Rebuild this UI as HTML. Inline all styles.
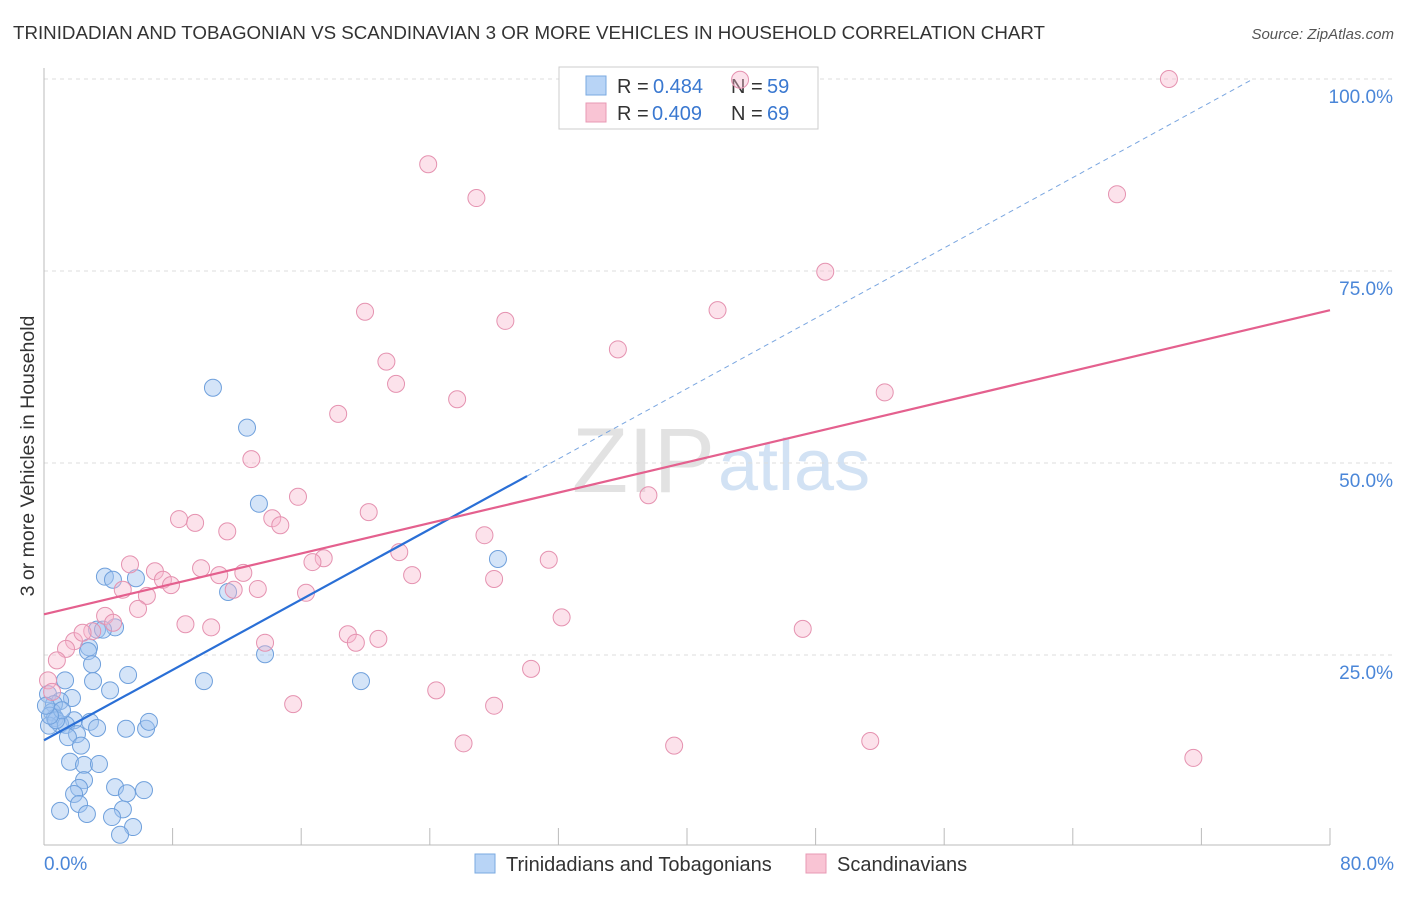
<!DOCTYPE html>
<html><head><meta charset="utf-8"><style>
body{margin:0;background:#fff;font-family:"Liberation Sans",sans-serif}
svg text{font-family:"Liberation Sans",sans-serif}
</style></head><body>
<svg id="chart" width="1406" height="892" xmlns="http://www.w3.org/2000/svg">
<text x="13" y="39" font-size="18" textLength="1032" lengthAdjust="spacingAndGlyphs" fill="#333">TRINIDADIAN AND TOBAGONIAN VS SCANDINAVIAN 3 OR MORE VEHICLES IN HOUSEHOLD CORRELATION CHART</text>
<text x="1394" y="39" font-size="15" fill="#555" text-anchor="end" font-style="italic">Source: ZipAtlas.com</text>
<text transform="translate(34,456) rotate(-90)" font-size="19.5" fill="#333" text-anchor="middle">3 or more Vehicles in Household</text>
<text x="715" y="492" font-size="92" fill="#e2e2e2" text-anchor="end" font-family="Liberation Serif">ZIP</text>
<text x="718" y="490" font-size="72" fill="#d2e2f4">atlas</text>
<g id="grid"></g>
<g>
<rect x="559" y="67" width="259" height="62" fill="#fff" stroke="#ccc"/>
<rect x="586" y="76" width="20" height="19" fill="#b8d4f6" stroke="#7aaae0"/>
<rect x="586" y="103" width="20" height="19" fill="#f9c4d4" stroke="#e89ab4"/>
<text x="617" y="93" font-size="20" fill="#333">R =</text><text x="653" y="93" font-size="20" fill="#3a78d0">0.484</text>
<text x="731" y="93" font-size="20" fill="#333">N =</text><text x="767" y="93" font-size="20" fill="#3a78d0">59</text>
<text x="617" y="120" font-size="20" fill="#333">R =</text><text x="652" y="120" font-size="20" fill="#3a78d0">0.409</text>
<text x="731" y="120" font-size="20" fill="#333">N =</text><text x="767" y="120" font-size="20" fill="#3a78d0">69</text>
</g>
<g id="pts"></g><g id="lines"></g>
<g>
<rect x="475" y="854" width="20" height="19" fill="#b8d4f6" stroke="#7aaae0"/>
<text x="506" y="871" font-size="20" fill="#333">Trinidadians and Tobagonians</text>
<rect x="806" y="854" width="20" height="19" fill="#f9c4d4" stroke="#e89ab4"/>
<text x="837" y="871" font-size="20" fill="#333">Scandinavians</text>
</g>
</svg>
<script>
const xTicks=[0,10,20,30,40,50,60,70,80];
const yTicks=[25,50,75,100];
const blueX=[10.51,12.63,13.37,28.24,3.79,4.29,5.72,11.45,3.30,4.42,3.67,2.80,2.74,2.99,13.75,5.23,1.31,3.05,9.95,19.72,4.11,0.25,1.74,1.0,0.62,0.5,0.68,1.87,2.86,1.0,1.37,0.31,3.30,5.10,6.35,6.53,2.05,1.49,2.30,1.62,2.49,3.42,2.49,2.18,4.42,6.22,1.87,5.16,2.18,1.0,2.67,4.91,4.23,5.54,4.73,0.75,1.12,0.37,0.12];
const blueY=[59.8,54.6,44.7,37.5,35.2,34.8,35.0,33.2,28.3,28.6,28.3,26.0,25.5,23.8,25.1,22.4,21.7,21.6,21.6,21.6,20.4,19.9,19.4,19.0,18.6,17.6,16.8,16.5,16.3,16.0,15.9,15.8,15.5,15.4,15.4,16.3,14.7,14.3,13.2,11.1,10.7,10.8,8.7,7.7,7.8,7.4,6.9,7.0,5.6,4.7,4.3,4.9,3.9,2.6,1.6,16.5,17.8,17.1,18.4];
const pinkX=[43.3,69.98,23.9,26.9,66.75,48.6,19.97,28.7,41.9,21.3,35.7,21.9,25.7,18.3,52.3,12.9,15.8,37.6,20.2,8.4,9.4,14.2,14.7,11.4,27.4,22.1,31.4,17.4,16.7,5.35,6.9,9.77,12.4,10.9,22.9,28.0,7.4,7.9,4.9,11.8,13.3,6.4,16.3,5.85,3.8,32.2,4.3,8.8,10.4,3.0,47.2,18.9,20.8,13.75,19.4,1.87,2.4,1.37,0.8,30.3,24.4,15.5,28.0,26.1,39.2,51.4,71.5,0.25,0.5];
const pinkY=[99.9,100,88.9,84.5,85.0,74.9,69.7,68.5,69.9,63.2,64.8,60.3,58.3,56.4,59.2,50.5,45.6,45.8,43.6,42.7,42.2,42.8,41.9,41.1,40.6,38.4,37.4,37.6,37.1,36.8,35.9,36.3,35.7,35.4,35.4,34.9,34.8,34.1,33.5,33.5,33.6,32.7,33.1,31.0,30.1,29.9,29.2,29.0,28.6,28.1,28.4,27.7,27.1,26.6,26.6,26.8,27.9,25.8,24.3,23.2,20.4,18.6,18.4,13.5,13.2,13.8,11.6,21.7,20.2];
const blueLine=[13.9,48.3];
const blueSolidEnd=30.05;
const pinkLine=[30.3,69.9];
const sx=v=>44+v*16.075, sy=v=>847-v*7.68;
const NS="http://www.w3.org/2000/svg";
function mk(p,t,a){const e=document.createElementNS(NS,t);for(const k in a)e.setAttribute(k,a[k]);p.appendChild(e);return e;}
const grid=document.getElementById('grid'),pts=document.getElementById('pts'),lines=document.getElementById('lines');
yTicks.forEach(t=>{
 const l=mk(grid,'line',{x1:44,x2:1394,y1:sy(t),y2:sy(t),stroke:'#ddd','stroke-dasharray':'4,4'});
 
 
 const tx=mk(grid,'text',{x:1393,y:sy(t)+24,'font-size':19,fill:'#4a86d8','text-anchor':'end'});tx.textContent=t.toFixed(1)+'%';
 
 
});
mk(grid,'line',{x1:44,x2:44,y1:68,y2:845,stroke:'#bbb'});
mk(grid,'line',{x1:44,x2:1330,y1:845,y2:845,stroke:'#bbb'});
for(let i=0;i<=80;i+=8){const l=mk(grid,'line',{x1:sx(i),x2:sx(i),y1:828,y2:845,stroke:'#bbb'});
 
 }
[[0,'0.0%',44,'start'],[80,'80.0%',1394,'end']].forEach(d=>{const t=mk(grid,'text',{x:d[2],y:870,'font-size':19,fill:'#4a86d8','text-anchor':d[3]});t.textContent=d[1];
 
 });
blueX.forEach((x,i)=>{const c=mk(pts,'circle',{cx:sx(x),cy:sy(blueY[i]),r:8.5,fill:'rgba(160,196,240,0.45)',stroke:'#6fa0dc','stroke-width':1});
 
 });
pinkX.forEach((x,i)=>{const c=mk(pts,'circle',{cx:sx(x),cy:sy(pinkY[i]),r:8.5,fill:'rgba(247,182,204,0.4)',stroke:'#e592b0','stroke-width':1});
 
 });
const bslope=(blueLine[1]-blueLine[0])/blueSolidEnd;
const bxEnd=(100-blueLine[0])/bslope;
let l=mk(lines,'line',{x1:sx(0),y1:sy(blueLine[0]),x2:sx(blueSolidEnd),y2:sy(blueLine[1]),stroke:'#2a6fd6','stroke-width':2.2});


l=mk(lines,'line',{x1:sx(blueSolidEnd),y1:sy(blueLine[1]),x2:sx(bxEnd),y2:sy(100),stroke:'#7aa6e0','stroke-width':1,'stroke-dasharray':'5,4'});


l=mk(lines,'line',{x1:sx(0),y1:sy(pinkLine[0]),x2:sx(80),y2:sy(pinkLine[1]),stroke:'#e4608e','stroke-width':2.2});


</script>
</body></html>
